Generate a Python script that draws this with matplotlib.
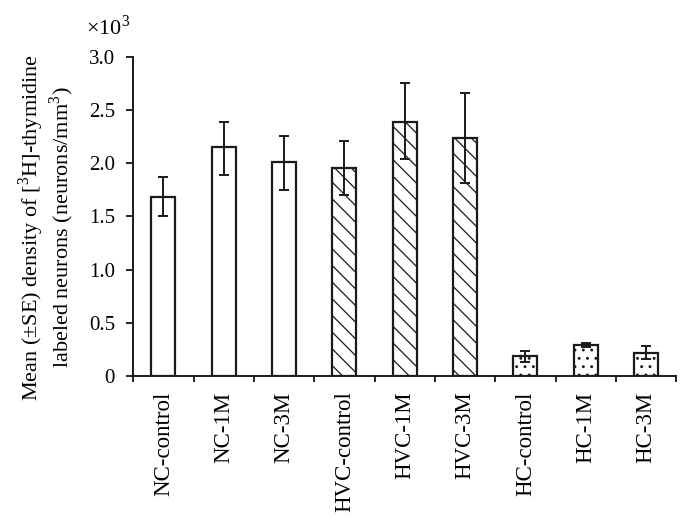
import matplotlib
matplotlib.use("Agg")
import matplotlib.pyplot as plt
import numpy as np

plt.rcParams['font.family'] = ['Liberation Serif', 'DejaVu Serif']
plt.rcParams['hatch.linewidth'] = 0.9
plt.rcParams['mathtext.fontset'] = 'custom'
plt.rcParams['mathtext.rm'] = 'Liberation Serif'

categories = ["NC-control", "NC-1M", "NC-3M", "HVC-control", "HVC-1M", "HVC-3M",
              "HC-control", "HC-1M", "HC-3M"]
means = [1.68, 2.15, 2.01, 1.96, 2.39, 2.24, 0.19, 0.29, 0.22]
err_upper = [0.19, 0.24, 0.25, 0.25, 0.36, 0.42, 0.05, 0.02, 0.06]
err_lower = [0.18, 0.26, 0.26, 0.26, 0.35, 0.43, 0.06, 0.02, 0.06]
hatches = ["", "", "", "\\\\", "\\\\", "\\\\", "..", "..", ".."]
yticks = [0, 0.5, 1.0, 1.5, 2.0, 2.5, 3.0]
ytick_labels = ["0", "0.5", "1.0", "1.5", "2.0", "2.5", "3.0"]

fig = plt.figure(figsize=(6.9, 5.21), dpi=100)
ax = fig.add_axes([0.193, 0.278, 0.787, 0.613])

x = np.arange(len(categories))
for i in range(len(categories)):
    ax.bar(x[i], means[i], width=0.4, color="white", edgecolor="#1a1a1a",
           linewidth=1.6, hatch=hatches[i], zorder=2)
ax.errorbar(x, means, yerr=[err_lower, err_upper], fmt="none", ecolor="#1a1a1a",
            elinewidth=1.4, capsize=3.8, capthick=1.4, zorder=3)

ax.set_xlim(-0.5, len(categories) - 0.5)
ax.set_ylim(0, 3.0)
ax.set_yticks(yticks)
ax.set_yticklabels(ytick_labels, fontsize=15)
ax.set_xticks(x)
ax.set_xticklabels(categories, rotation=90, fontsize=16.5)
ax.tick_params(axis='x', length=0, pad=11)
ax.set_xticks(np.arange(-0.5, len(categories)), minor=True)
ax.tick_params(axis='x', which='minor', length=4, width=1.2, direction='out')
ax.tick_params(axis='y', length=5, width=1.2, direction='out', pad=8)

for s in ["top", "right"]:
    ax.spines[s].set_visible(False)
for s in ["left", "bottom"]:
    ax.spines[s].set_linewidth(1.4)
    ax.spines[s].set_color("#1a1a1a")

ax.set_ylabel("Mean (±SE) density of [$^3$H]-thymidine\nlabeled neurons (neurons/mm$^3$)",
              fontsize=16, linespacing=1.05)
ax.yaxis.set_label_coords(-0.105, 0.465)
ax.text(-0.006, 1.069, "×10$^3$", transform=ax.transAxes, fontsize=16,
        ha="right", va="baseline")

fig.savefig("out.png", dpi=100)
